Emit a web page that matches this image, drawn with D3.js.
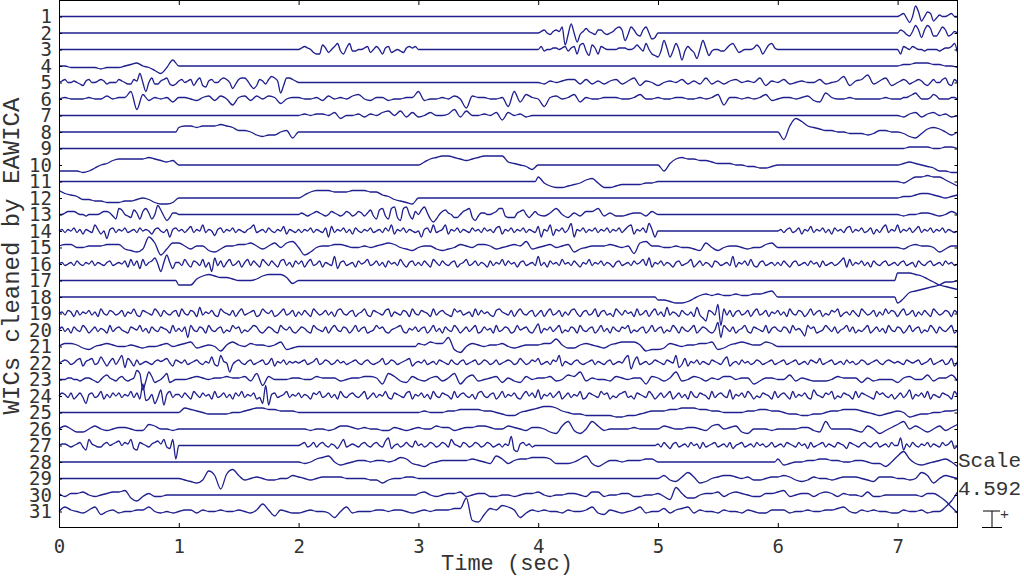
<!DOCTYPE html>
<html>
<head>
<meta charset="utf-8">
<script src="https://cdn.jsdelivr.net/npm/d3@7"></script>
<style>
  body { margin: 0; background: #fff; }
  svg { display: block; }
</style>
</head>
<body>
<svg id="canvas" width="1024" height="576"></svg>
<script>
// one string per second of signal (the last one covers 7.0-7.5 s); '-' = component zeroed there
// each char is a level, 'M' = baseline, one step = SPACING / 11
let wic1 = ['-','-','-','-','-','-','-','MNOLIMTPJMPOJLNMMNOMM']
let wic2 = ['-','-','-','-','MNOMLNONQELSMGLNPNMLOOMLMNPQOHLQOLKOQMIJ','-','-','MONLKNROJORPKKNQOKLNM']
let wic3 = ['-','-','MNONMKJJPNKMOQLJNQLLMMNOKMOMJNOKLMLKNONO','-','MOLMMNNMNOLNOJPQLIPNJONMMMMNNNMMNPNLQMJI','HLSNHLQMFLOMKGMSNILMMLLNPQNKLMMMNPNJMPQN','-','MJONMONMMLMMMMLMNNOQK']
let wic4 = ['MMLLLLLKLLLMNOMLJHLQ','-','-','-','-','-','-','MNNOOONNMML']
let wic5 = ['MNOMMNMLKNOMMNONLMMMONMLLONSMGMPLLNOPLKL','NOMNOKNPKJNOMMOPOMILOPPNKIKONLOQPNFKPPON','-','-','MLNMNOOLOLNLNOLNPKNM','KMNMOLNLPLNLNOMNMPKN','MOLMNMMOLMNQKNORLNPK','MNONLMNONLKMOMMOPLKOM']
let wic6 = ['MNMMMNMMOMNNRFPLNMNK','NNMLNOLOMINOLOMONJMN','NMMNLOMNMOPMLNNLMMNN','RLMMNMOMGONNMMNHRKPN','MHNOMNPKNMMNNNMMNPMM','NMMNNMMNMNPINNMNMNPL','MNNMNOLKQNMMNMMMMMNM','MMNNOPQOMMMNPOMMMMNNM']
let wic7 = ['-','-','MNMNNMOKMMNLNMOPMPLO','LMOMMNQLPMMNMOJOMNLM','-','-','-','MLNOLNOMNLM']
let wic8 = ['-','PQQPQQQRQPNNMKJKKMNI','-','-','-','-','MHQVTQPONNMMLLLKLNNM','MLJILOPOMKM']
let wic9 = ['-','-','-','-','-','-','-','MMNNNNMMNNM']
let wic10 = ['IIIIHIKMNPQQQQQRQPOP','-','-','MOQRSSRQPQRSSSSONMLJ','-','MINQRQQPPONNNMMLLKKL','-','MNONMLKIIHH']
let wic11 = ['-','-','-','-','PLJIIJKLNOLIIJKKKKLL','-','-','MLNPPQPPNLJ']
let wic12 = ['RPONLLKKJJJKKLMLJIIJ','-','MOQRRRQQQRRRQQONLKJI','-','-','-','-','MNNOPPONMNO']
let wic13 = ['MMNOOONMMLMMMMNOONLJQPMLKPNJOQNJMSPLIKNN','-','MNMLMNONMLMONMLMONLMONLNPLJPQLJQRKIQRMJO','MPRNJHJMOPNMKKMOPQKILNNMMNOQQLKKKNOPMKMO','MLNQMKNLOOQLNLLMNNLO','-','-','MLMMNNMLMOM']
let wic14 = ['MNLNMOLNKNMLQNKMHNOLNMOLMNLOMNMKNOMLNINO','MNLNPLNMQLNMJNOLNMOLNMLNOQLMNLOMLNMPKNML','NLNMOLNMLOIPLNMOLNKOMLNMOLMNLOMQKNMOLNML','MINOLQLMNQKNMOLNMLOMNLOMNLOPKNMOLNMOLNML','PINMQJNMOLNRINMOLNMOLNMOLNMOLNPQKNMOLRNI','-','MNLNOLMOKNMPLNMOLNKOMNLOPLNMOLMOKNLOQLNM','QLNMOLNPLNMOLNMOLNMLM']
let wic15 = ['NOOMMNNNOOOLKJLTPHLP','PNLNNKJLNNOOPNLNPMPQ','MHJMNNOONMMNMNOPOMLK','MNNLKLMONMOONLMNONQL','MNOMNOJLMNNNONMNIPQN','NMMNMMLKPMKMNNMLMMOP','-','MLNONNMJLNN']
let wic16 = ['MNLMNLOMLNMOLNMLNOLMNMOKPLOJPLNOQMHNSNJN','NLPMKONLPKNHQLOKNPLMOKNPLOMKPNLOMKOPLNKO','MOKNPLMOKNMLRJNOLMNKOMNPLMOLNKOMNLPMKNOL','NLOMKPNLOMLNOKMNPLMOLNMKOLNMPLOMNKNOLMNL','RLNKOMNLPMNLOMKNMPLNMOLNMKNOLMNLOMNPLQKN','MOLNMKNOLMNPKMOLNMKONLMNLRKNMOLPLKNOLMNL','NLOMKNOLMNLOMNKOLMNLMOQKPLNMOLNKOMLNOLMN','LNOLMNKOMLNOLMNLOMNLM']
let wic17 = ['-','JJJNPQPOONMMMNPQQQOK','-','-','-','-','-','RRRQPNLJIHG']
let wic18 = ['-','-','-','-','-','KKJIIJLNONONNONNOOPQ','-','ILPQRSTUWWX']
let wic19 = ['MNLONKOLNMOLNKPMLONLMOKNMPLKONMLPNKOMLNO','KPMLONKQLNMOLKPNMLOKNPLMNOKLPNMOKLNPLMOK','NLOMKPNLMOLNKOPMLNOKMNPLKONMLOPKNMLONKPM','LONMKPLNOMLKPNOLMNKPLOMNLKOPNMLOKNPMLNOK','MOKNPLMOKNLOPMKNOLMPKNOLMKPNLOMNKPLMOKNP','LNKQLNMKOMLNKQLJHONLSEPLOKNOLMOKNPLMOKNM','OLNKPMLONKMPLNOKMLONPKMNLOMKPNLMOKNLPMON','KNPLMOKNLOMKPNLMONKOM']
let wic20 = ['MOLNKOMLPNKMOLNMKPLNOMLKONMPLNKOMLONMKPL','NLOHPMLONKPMLNOKMLPNOKMLNPOLKMONLKPNMOLK','MONLKPNMLOKNPMLONKMPLNOKLMPNOLKMNOPLKNMO','LNOKMPLNKOMLPNKMOLNPKLOMNKPLMONKLPMNOLKN','QKNMOLNPKMLONKPMLNOKMPLNKOMLONPKMLNOKMPL','NOKMLPNKOMLNPKMONLKMRHPNLOKMNPLKONMLPKNO','MLONKPMNLIPNOKLMPNLOKMNPLOKMLNPKMOLNKPML','ONKMPLNOKMLPNKOMLNPKM']
let wic21 = ['MOONLKMNONMMNMLMMNOM','NOPLMNMJNPNMONNMNPKL','-','ONPOOSKIMONMNNOMLMNN','NOORNLLNONMLNOPPPNJK','KLONMNNOOPKLNOPONNPO','-','-']
let wic22 = ['MNONLMOPKNOPLMQNKNPLORJPNKOLMNMLNONOPMKO','NMOLMNOMLNMQLKRNMGLNOMLNOLMNOLMPKNMOLNMN','MNOLMNPLMONLMOMNLMNOMLNOMLMNPLMONLMNOPKM','NMOLMNLONMLOMLNOLMNOLMONLMOLMNONLMPNLMON','PLMNLONRKNMLNOMLMNOLNMLNOLMNMPRINQLMNLMO','NMLONMRJLPKNMOLNMLONMLOQKMNLOMNLMONLMNOL','MNOLMNOLMNLONMPLMNOLMNLOMNLMONLMNOMLNONM','NMLONMNOLMNPLMNOLMPKN']
let wic23 = ['MMMNNMMLMNNMLKMOPNMLNOMLMNSQFLROKLMOQKLM','MMNONMNNONNOLQIOMMMN','NMMONNNLMNNOONJQOLKO','MLNOLNQJNPLMNOKNLKOM','NNOLMPORLNMMLONMNNJO','NLNRLMONLNMOOMNNJLNN','MMPLNMLLLMONNNKNLMMM','KNOMMPLNNPL']
let wic24 = ['MONLOKMOLHNOLMPKNLOMOLNMPLOKUJKNHLQGNPLN','NLOMKPNLOMNKPLMOLNKOMPLNMOKLHTGNOLMNPLNM','OLNMKONPLMOLNKPMLNOMLNPKMOLNMPLKONMLOPKN','MOLNKPMLONMKPLNOMLNKOPMLNOKMPLNMOLKNPMOL','QKNMOLNPKMOLNMPKLONMLPNOKMLNOPLMKONMLPNK','MOLNPKMOLNKPMLONMKPLNOMLQKNMOLPNKMLONMKP','LNOMKPLNMOLKQNMLONPKMLONMKPLONMLKPNOMLNK','MOLNQKNMOLPKNMLONMKPM']
let wic25 = ['-','MPONMLLLLMMNOPPOONNN','-','MNMMMNNOOOONNMLKKMNO','PQQPNMLLKKKKKJJKKLMN','NNOOPPPOONNMMMMNNOON','NMLLKKLLMNNOOONMLKLM','NMJKLLMMNNO']
let wic26 = ['MOMKKMOMLMNNMLLPOMML','-','MMLMMLMOONMNMMLLNMLM','NMMONNLMNNOONMMONMLN','NMKJORLJMROLMMMMNMMM','MONMMNNMLOPMNOKJMMML','MMMMNNLKRMMMMLKOMJLN','PRMOMKMOLNP']
let wic27 = ['MNNMLMNOLJQNMLLNOMNOPMONQKJONMLNOPNQLKQD','-','MNOLMOLNOMLNMKNQLMNMLNOMLNOMLPRKMNLMOMLP','MNLMONLMONLQNMLONLMONLMONLMNLNMSJINOMNLM','-','NLOMKNOLMNLOMNKOLMNOLMNLOKMNOLMNLOMNLMOL','MNLONMLOMNKOLMNOLNMLONMKONMLNOMLNOLMNLOM','MRJNLOMLNMOLNMLOMNPKM']
let wic28 = ['-','-','MLMOPQMKLMNNMNNMNPOL','KJLMNNNNNONMLQOLNOOP','PPOLLLMOQLJLNNMNNNOO','-','OKLMMNNOONNMMNNMLLJM','QTOLKLMNOMJ']
let wic29 = ['-','MLKJLROFPSOLMNMLLMMO','NMLMNNNNMMMMLLJLMMNN','-','-','MOLKNQNJKMNOONMNLLMN','NONLKLNMMLMNNNMLKNNN','MMLMQOJMONM']
let wic30 = ['NLNNOMLMNOOPKILNLLMM','-','-','NOMLMNNOLMNNLLMMLMNN','OMLMMNNMLOOLMMNNLLMM','NLJRNKKMNNOLNONMLLNN','OPLMNNLNONLNMMLOLLMM','MMMMLNNLIEA']
let wic31 = ['MPNMLNPKMNLMMNNPMLML','MNNLNMMNMMNMLNRNJNML','LMNMMLIMPLMMMNNMNNML','MNMNNNOOVGFKONQPNILN','MNMMLNMMNPLKNMLMNPLM','MOLNOPLNMMLNMMLNMLLN','NNLMMNMMNNOPMLNMNMML','LNMMNLMMPTZ']

let wics = [wic1, wic2, wic3, wic4, wic5, wic6, wic7, wic8, wic9, wic10, wic11, wic12, wic13, wic14, wic15, wic16,
  wic17, wic18, wic19, wic20, wic21, wic22, wic23, wic24, wic25, wic26, wic27, wic28, wic29, wic30, wic31]
let channelLabels = wics.map((d, i) => String(i + 1))
let timeTicks = [0, 1, 2, 3, 4, 5, 6, 7]
let scaleValue = 4.592   // µV between two channels, shown by the bar

const SPACING = scaleValue
const LEVEL = SPACING / 11

let canvas = d3.select('#canvas')

let x = d3.scaleLinear().domain([0, 7.5]).range([59, 957.5])
let y = d3.scaleLinear().domain([0, 32 * SPACING]).range([0, 528])

// turn the per-second strings into [time, value] points
let decode = (groups) => {
  let pts = []
  groups.forEach((g, sec) => {
    let last = sec === groups.length - 1
    let span = last ? 0.5 : 1
    if (g === '-') {
      pts.push([sec, 0], [sec + span - (last ? 0 : 1 / 40), 0])
      return
    }
    let n = g.length
    for (let j = 0; j < n; j++) {
      let t = last ? sec + span * j / (n - 1) : sec + j / n
      pts.push([t, (g.charCodeAt(j) - 77) * LEVEL])
    }
  })
  return pts
}

let line = d3.line().curve(d3.curveMonotoneX)

canvas.append('g')
  .selectAll('path')
  .data(wics)
  .enter()
  .append('path')
  .attr('fill', 'none')
  .attr('stroke', '#1f1f8e')
  .attr('stroke-width', 1.3)
  .attr('d', (d, i) => {
    let base = (i + 1) * SPACING
    return line(decode(d).map(p => [x(p[0]), y(base - p[1])]))
  })

// axes: ticks point inwards on all four sides
let chanPos = channelLabels.map((d, i) => (i + 1) * SPACING)

let xBottom = d3.axisBottom(x).tickValues(timeTicks).tickSize(-5).tickPadding(12)
let xTop = d3.axisTop(x).tickValues(timeTicks).tickSize(-5).tickFormat('')
let yLeft = d3.axisLeft(y).tickValues(chanPos).tickSize(-3).tickPadding(7)
  .tickFormat((d, i) => channelLabels[i])
let yRight = d3.axisRight(y).tickValues(chanPos).tickSize(-3).tickFormat('')

let styleAxis = (g) => {
  g.select('.domain').remove()
  g.selectAll('line').attr('stroke', '#000')
  g.selectAll('text').attr('fill', '#333').style('font-family', '"DejaVu Sans Mono", monospace').style('font-size', '19px')
}

canvas.append('g').attr('transform', 'translate(0,528)').call(xBottom).call(styleAxis)
canvas.append('g').attr('transform', 'translate(0,0)').call(xTop).call(styleAxis)
canvas.append('g').attr('transform', 'translate(59,0)').call(yLeft).call(styleAxis)
canvas.append('g').attr('transform', 'translate(957.5,0)').call(yRight).call(styleAxis)

canvas.append('rect')
  .attr('x', 59.5).attr('y', 0.5)
  .attr('width', 898).attr('height', 527)
  .attr('fill', 'none').attr('stroke', '#000').attr('stroke-width', 1)

canvas.append('text')
  .attr('x', 507).attr('y', 570)
  .attr('text-anchor', 'middle')
  .style('font-family', '"Liberation Mono", monospace').style('font-size', '22px').attr('fill', '#333')
  .text('Time (sec)')

canvas.append('text')
  .attr('transform', 'translate(19,256) rotate(-90)')
  .attr('text-anchor', 'middle')
  .style('font-family', '"Liberation Mono", monospace').style('font-size', '24px').attr('fill', '#333')
  .text('WICs cleaned by EAWICA')

// scale bar
let scaleG = canvas.append('g').style('font-family', '"Liberation Mono", monospace').style('font-size', '21px').attr('fill', '#333')
scaleG.append('text').attr('x', 958).attr('y', 467).text('Scale')
scaleG.append('text').attr('x', 958).attr('y', 495).text(scaleValue)
let barBottom = 527.5
let barTop = barBottom - (y(SPACING) - y(0))
scaleG.append('path')
  .attr('d', `M983,${barTop}H1000M992,${barTop}V${barBottom}M982,${barBottom}H1002`)
  .attr('stroke', '#000').attr('fill', 'none')
scaleG.append('text').attr('x', 1000).attr('y', barTop + 8).style('font-size', '15px').text('+')
</script>
</body>
</html>
